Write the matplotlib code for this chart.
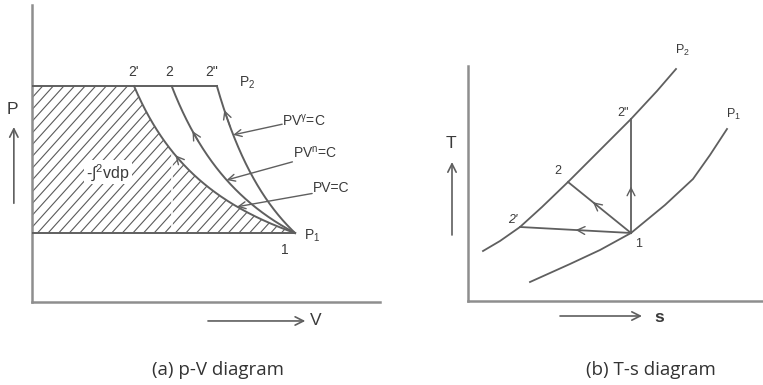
import numpy as np
import matplotlib
matplotlib.use("Agg")
import matplotlib.pyplot as plt
from matplotlib.patches import Polygon
from matplotlib.collections import LineCollection

plt.rcParams['font.family'] = ['Liberation Sans', 'DejaVu Sans']
plt.rcParams['mathtext.fontset'] = 'custom'
plt.rcParams['mathtext.rm'] = 'Liberation Sans'
plt.rcParams['mathtext.it'] = 'Liberation Sans'

# ---- p-V diagram: states (schematic units) ----
P1, P2 = 1.0, 2.58
V1 = 1.0
V2_iso, V2_poly, V2_adi = 0.388, 0.531, 0.703   # end volumes at 2', 2, 2"

# ---- T-s diagram: isobars and states (schematic units) ----
s_p2 = [0.15, 0.32, 0.52, 0.74, 1.00, 1.20, 1.42, 1.63, 1.89, 2.08]
T_p2 = [0.50, 0.60, 0.74, 0.94, 1.19, 1.39, 1.61, 1.82, 2.10, 2.32]
s_p1 = [0.62, 1.02, 1.32, 1.63, 1.97, 2.25, 2.42, 2.59]
T_p1 = [0.19, 0.37, 0.51, 0.68, 0.96, 1.22, 1.46, 1.72]
st_1 = (1.63, 0.68)
st_2a = (0.52, 0.74)   # 2'
st_2 = (1.00, 1.19)    # 2
st_2b = (1.63, 1.82)   # 2"

LINE = '#5f5f5f'
AXC = '#8e8e8e'
TXT = '#3a3a3a'

fig = plt.figure(figsize=(7.63, 3.85), dpi=100)
axL = fig.add_axes([32 / 763, 83 / 385, 348 / 763, 297 / 385])
axR = fig.add_axes([468 / 763, 84 / 385, 295 / 763, 235 / 385])

for ax in (axL, axR):
    ax.set_facecolor('none')
    for sp in ('top', 'right'):
        ax.spines[sp].set_visible(False)
    for sp in ('left', 'bottom'):
        ax.spines[sp].set_color(AXC)
        ax.spines[sp].set_linewidth(1.8)
    ax.set_xticks([])
    ax.set_yticks([])

axL.set_xlim(0, 1.323)
axL.set_ylim(0.258, 3.452)
axR.set_xlim(0, 2.95)
axR.set_ylim(0, 2.35)


def exponent(v_end):
    return np.log(P2 / P1) / np.log(V1 / v_end)


def pressure(v, n):
    return P1 * (V1 / v) ** n


# compression curves
curves = {}
for v_end in (V2_iso, V2_poly, V2_adi):
    n = exponent(v_end)
    v = np.linspace(v_end, V1, 300)
    curves[v_end] = (v, pressure(v, n), n)
    axL.plot(v, pressure(v, n), color=LINE, lw=1.4, zorder=3)

# constant pressure lines
axL.plot([0, V2_adi], [P2, P2], color=LINE, lw=1.4, zorder=3)
axL.plot([0, V1], [P1, P1], color=LINE, lw=1.4, zorder=3)

# hatched area  -∫ v dp  (left of the isothermal)
v_i, p_i, _ = curves[V2_iso]
verts = [(0, P1), (V1, P1)] + list(zip(v_i[::-1], p_i[::-1])) + [(0, P2)]
region = Polygon(verts, closed=True, facecolor='none', edgecolor='none')
axL.add_patch(region)

fig.canvas.draw()
to_px = axL.transData
to_data = axL.transData.inverted()
(xa, yb) = to_px.transform((0, P1))
(xb, yt) = to_px.transform((V1, P2))
h = yt - yb
run = h / np.tan(np.radians(48))
segs = []
for x0 in np.arange(xa - run, xb + 5, 10.6):
    p0 = to_data.transform((x0, yb))
    p1 = to_data.transform((x0 + run, yt))
    segs.append([p0, p1])
hatch = LineCollection(segs, colors='#5a5a5a', linewidths=0.8, zorder=2)
hatch.set_clip_path(region)
axL.add_collection(hatch)

# projection of state 2 onto the isothermal
axL.plot([V2_poly, V2_poly], [P1, pressure(V2_poly, 1.0)], color='white', lw=1.2, zorder=2.5)


def flow_arrow(ax, xy_from, xy_to):
    ax.annotate('', xy=xy_to, xytext=xy_from,
                arrowprops=dict(arrowstyle='->,head_length=0.55,head_width=0.28',
                                color=LINE, lw=1.0, shrinkA=0, shrinkB=0),
                zorder=4)


# direction arrows along the curves
for v_end, va in ((V2_iso, 0.555), (V2_poly, 0.62), (V2_adi, 0.741)):
    n = curves[v_end][2]
    flow_arrow(axL, (va + 0.012, pressure(va + 0.012, n)), (va - 0.01, pressure(va - 0.01, n)))

# pointer labels
pointers = [
    (r'PV$^{\gamma}$=C', (0.951, 2.17), 0.765, V2_adi, (0.951, 2.205)),
    (r'PV$^{n}$=C', (0.99, 1.765), 0.74, V2_poly, (0.992, 1.87)),
    (r'PV=C', (1.065, 1.425), 0.78, V2_iso, (1.068, 1.485)),
]
for label, start, vt, v_end, tpos in pointers:
    n = curves[v_end][2]
    axL.annotate('', xy=(vt, pressure(vt, n)), xytext=start,
                 arrowprops=dict(arrowstyle='->,head_length=0.5,head_width=0.25',
                                 color=LINE, lw=1.0, shrinkA=0, shrinkB=0))
    axL.text(tpos[0], tpos[1], label, fontsize=10, color=TXT, ha='left', va='center')

tkw = dict(color=TXT, ha='center', va='center')
axL.text(0.384, 2.73, "2'", fontsize=10, **tkw)
axL.text(0.521, 2.73, "2", fontsize=10, **tkw)
axL.text(0.684, 2.73, '2"', fontsize=10, **tkw)
axL.text(0.817, 2.61, r'P$_2$', fontsize=10, **tkw)
axL.text(1.065, 0.975, r'P$_1$', fontsize=10, **tkw)
axL.text(0.962, 0.817, '1', fontsize=10, **tkw)
axL.text(0.289, 1.655, r'-$\int$$^{2}$vdp', fontsize=11.5, zorder=5,
         bbox=dict(boxstyle='square,pad=0.12', fc='white', ec='none'), **tkw)

# axis direction arrows
akw = dict(arrowstyle='->,head_length=0.6,head_width=0.3', color=LINE, lw=1.2,
           shrinkA=0, shrinkB=0)
axL.annotate('', xy=(-0.069, 2.14), xytext=(-0.069, 1.32), arrowprops=akw,
             annotation_clip=False)
axL.text(-0.073, 2.33, 'P', fontsize=12.5, clip_on=False, **tkw)
axL.annotate('', xy=(1.039, 0.054), xytext=(0.669, 0.054), arrowprops=akw,
             annotation_clip=False)
axL.text(1.08, 0.054, 'V', fontsize=12.5, clip_on=False, **tkw)

# ---- T-s diagram ----
axR.plot(s_p2, T_p2, color=LINE, lw=1.3)
axR.plot(s_p1, T_p1, color=LINE, lw=1.3)
for end in (st_2b, st_2, st_2a):
    axR.plot([st_1[0], end[0]], [st_1[1], end[1]], color=LINE, lw=1.3)


def seg_arrow(ax, a, b, frac):
    a = np.array(a)
    b = np.array(b)
    p = a + frac * (b - a)
    d = (b - a) / np.linalg.norm(b - a)
    flow_arrow(ax, p - 0.03 * d, p + 0.02 * d)


seg_arrow(axR, st_1, st_2b, 0.39)
seg_arrow(axR, st_1, st_2, 0.58)
seg_arrow(axR, st_1, st_2a, 0.48)

axR.text(1.55, 1.88, '2"', fontsize=9, **tkw)
axR.text(0.90, 1.30, '2', fontsize=9, **tkw)
axR.text(0.45, 0.81, "2'", fontsize=9, style='italic', **tkw)
axR.text(1.71, 0.57, '1', fontsize=9, **tkw)
axR.text(2.14, 2.51, r'P$_2$', fontsize=9, clip_on=False, **tkw)
axR.text(2.65, 1.87, r'P$_1$', fontsize=9, **tkw)

axR.annotate('', xy=(-0.16, 1.39), xytext=(-0.16, 0.66), arrowprops=akw,
             annotation_clip=False)
axR.text(-0.17, 1.58, 'T', fontsize=12.5, clip_on=False, **tkw)
axR.annotate('', xy=(1.74, -0.15), xytext=(0.92, -0.15), arrowprops=akw,
             annotation_clip=False)
axR.text(1.91, -0.17, 's', fontsize=12.5, fontweight='bold', clip_on=False, **tkw)

# captions
fig.text(218 / 763, 1 - 370 / 385, '(a) p-V diagram', fontsize=13.5,
         family='Open Sans', color='#333333', ha='center', va='center')
fig.text(651 / 763, 1 - 370 / 385, '(b) T-s diagram', fontsize=13.5,
         family='Open Sans', color='#333333', ha='center', va='center')

fig.savefig('out.png', dpi=100)
